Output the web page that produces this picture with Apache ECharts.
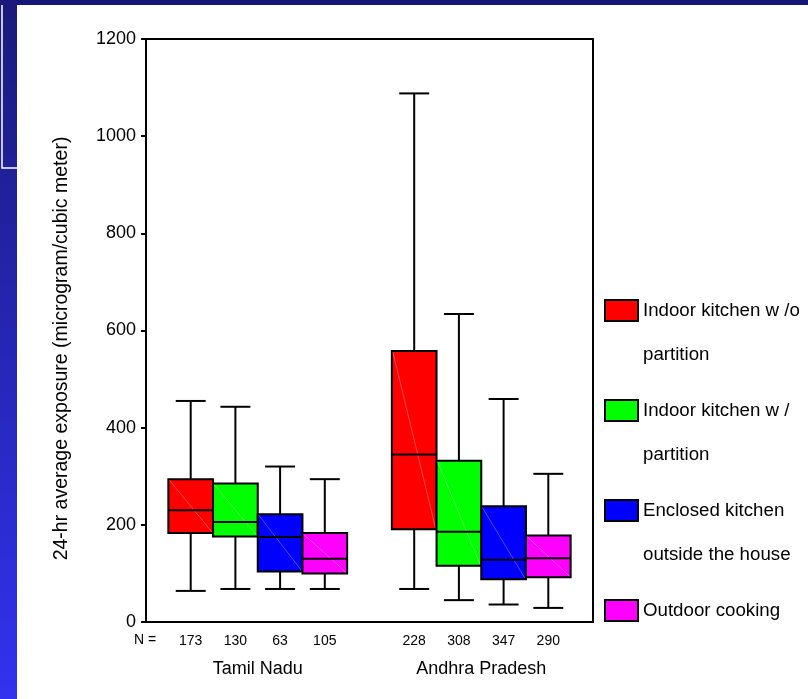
<!DOCTYPE html>
<html>
<head>
<meta charset="utf-8">
<script src="https://cdn.jsdelivr.net/npm/echarts@6/dist/echarts.min.js"></script>
<style>
html,body{margin:0;padding:0;background:#fff;}
#chart{width:808px;height:699px;}
</style>
</head>
<body>
<div id="chart"></div>
<script>
// ---- Data ----
const regions = ['Tamil Nadu', 'Andhra Pradesh'];
const seriesNames = ['Indoor kitchen w/o partition', 'Indoor kitchen w/ partition', 'Enclosed kitchen outside the house', 'Outdoor cooking'];
const legendLabels = [' \nIndoor kitchen w /o\npartition', ' \nIndoor kitchen w /\npartition', ' \nEnclosed kitchen\noutside the house', ' \nOutdoor cooking\n '];
const seriesColors = ['#ff0000', '#00ff00', '#0000ff', '#ff00ff'];
// [min, Q1, median, Q3, max] per region
const indoorNoPartition = [[64, 183, 230, 294, 455], [68, 191, 345, 558, 1088]];
const indoorPartition   = [[68, 176, 206, 285, 443], [45, 116, 186, 332, 634]];
const enclosedOutside   = [[68, 104, 175, 222, 320], [36, 88, 128, 238, 459]];
const outdoorCooking    = [[68, 100, 130, 183, 294], [29, 92, 131, 178, 305]];
const sampleCounts = [[173, 130, 63, 105], [228, 308, 347, 290]];
const yTicks = [0, 200, 400, 600, 800, 1000, 1200];

const allSeries = [indoorNoPartition, indoorPartition, enclosedOutside, outdoorCooking];
const FONT = "'Liberation Sans', Arial, sans-serif";

function makeRender(si) {
  return function (params, api) {
    const cat = api.value(0);
    const c = api.coord([cat, api.value(1)]);
    const cx = c[0];
    const yMin = c[1];
    const yQ1 = api.coord([cat, api.value(2)])[1];
    const yMed = api.coord([cat, api.value(3)])[1];
    const yQ3 = api.coord([cat, api.value(4)])[1];
    const yMax = api.coord([cat, api.value(5)])[1];
    const band = api.size([1, 0])[0];
    const bw = band * 0.2;
    const x0 = cx + (si - 2) * bw;
    const mid = x0 + bw / 2;
    const cap = bw * 0.67;
    const ls = { stroke: '#000', lineWidth: 2 };
    return {
      type: 'group',
      children: [
        { type: 'line', shape: { x1: mid, y1: yMax, x2: mid, y2: yQ3 }, style: ls },
        { type: 'line', shape: { x1: mid, y1: yQ1, x2: mid, y2: yMin }, style: ls },
        { type: 'line', shape: { x1: mid - cap / 2, y1: yMax, x2: mid + cap / 2, y2: yMax }, style: ls },
        { type: 'line', shape: { x1: mid - cap / 2, y1: yMin, x2: mid + cap / 2, y2: yMin }, style: ls },
        { type: 'rect', shape: { x: x0, y: yQ3, width: bw, height: yQ1 - yQ3 }, style: { fill: seriesColors[si], stroke: '#000', lineWidth: 2 } },
        { type: 'line', shape: { x1: x0 + 1, y1: yQ3 + 1, x2: x0 + bw - 1, y2: yQ1 - 1 }, style: { stroke: 'rgba(255,255,255,0.3)', lineWidth: 1 } },
        { type: 'line', shape: { x1: x0, y1: yMed, x2: x0 + bw, y2: yMed }, style: ls }
      ]
    };
  };
}

const series = allSeries.map(function (arr, si) {
  return {
    name: seriesNames[si],
    type: 'custom',
    renderItem: makeRender(si),
    itemStyle: { color: seriesColors[si], borderColor: '#000', borderWidth: 2 },
    encode: { x: 0, y: [1, 2, 3, 4, 5] },
    data: arr.map(function (v, ci) { return [ci].concat(v); })
  };
});

const chart = echarts.init(document.getElementById('chart'), null, { renderer: 'canvas' });
chart.setOption({
  backgroundColor: '#ffffff',
  animation: false,
  grid: { left: 146, right: 215, top: 39, bottom: 77, show: true, borderColor: '#000', borderWidth: 2, backgroundColor: 'transparent' },
  xAxis: {
    type: 'category',
    data: regions,
    axisLine: { lineStyle: { color: '#000', width: 2 } },
    axisTick: { alignWithLabel: true, length: 4, lineStyle: { color: '#000', width: 2 } },
    axisLabel: {
      margin: 9,
      color: '#000',
      formatter: function (value, idx) {
        const counts = sampleCounts[idx].map(function (n) { return '{c|' + n + '}'; }).join('');
        return counts + '\n{r|' + value + '}';
      },
      rich: {
        c: { width: 44.7, align: 'center', fontSize: 14, fontFamily: FONT, lineHeight: 20, color: '#000' },
        r: { align: 'center', fontSize: 18, fontFamily: FONT, lineHeight: 36, color: '#000' }
      }
    },
    splitLine: { show: false }
  },
  yAxis: {
    type: 'value',
    min: 0,
    max: 1200,
    interval: 200,
    name: '24-hr average exposure (microgram/cubic meter)',
    nameLocation: 'middle',
    nameGap: 74,
    nameTextStyle: { fontSize: 19.5, fontFamily: FONT, color: '#000', padding: [0, 36, 0, 0] },
    axisLine: { show: true, lineStyle: { color: '#000', width: 2 } },
    axisTick: { show: true, length: 5, lineStyle: { color: '#000', width: 2 } },
    axisLabel: {
      margin: 10, color: '#000', fontSize: 18, fontFamily: FONT,
      formatter: function (v) { return yTicks.indexOf(v) >= 0 ? String(v) : ''; }
    },
    splitLine: { show: false }
  },
  legend: {
    orient: 'vertical',
    left: 604,
    top: 244.5,
    padding: 0,
    itemGap: -32,
    icon: 'rect',
    itemWidth: 33,
    itemHeight: 21,
    itemStyle: { borderColor: '#000', borderWidth: 2 },
    data: seriesNames,
    formatter: function (name) { return legendLabels[seriesNames.indexOf(name)]; },
    textStyle: { fontSize: 18.7, fontFamily: FONT, color: '#000', lineHeight: 44 },
    selectedMode: false
  },
  graphic: [
    { type: 'rect', z: 100, shape: { x: 0, y: 0, width: 808, height: 5 }, style: { fill: '#17177a' } },
    { type: 'rect', z: 100, shape: { x: 0, y: 0, width: 17, height: 699 },
      style: { fill: new echarts.graphic.LinearGradient(0, 0, 0, 1, [{ offset: 0, color: '#1a1a7c' }, { offset: 1, color: '#3232f0' }]) } },
    { type: 'polyline', z: 101, shape: { points: [[2, 5], [2, 168], [17, 168]] }, style: { stroke: '#ffffff', lineWidth: 1.5, fill: null } },
    { type: 'text', left: 134, top: 633, style: { text: 'N =', fontSize: 14, fontFamily: FONT, fill: '#000' } }
  ],
  series: series
});
</script>
</body>
</html>
